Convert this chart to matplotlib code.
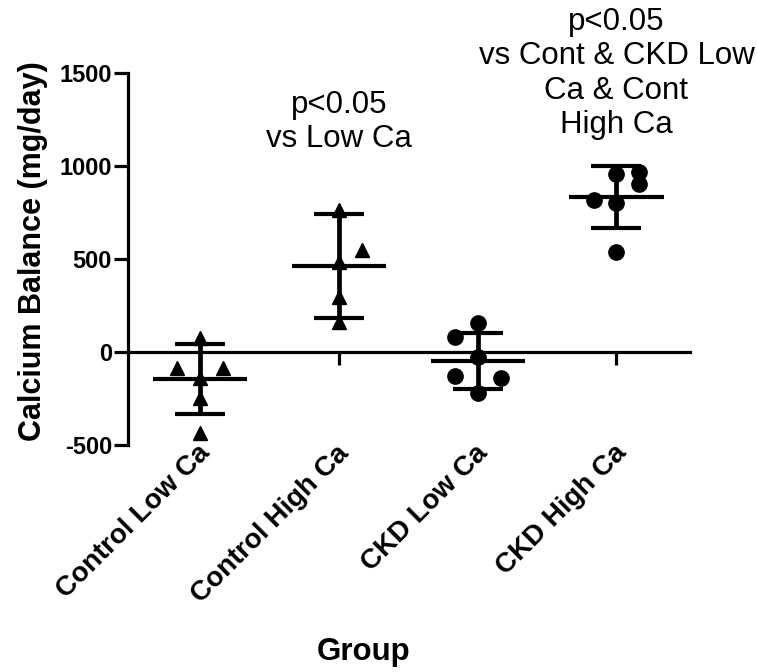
import matplotlib
matplotlib.use("Agg")
import matplotlib.pyplot as plt
from matplotlib.transforms import ScaledTranslation

plt.rcParams["font.family"] = ["Liberation Sans", "DejaVu Sans"]
plt.rcParams["axes.unicode_minus"] = False

# data
groups = ["Control Low Ca", "Control High Ca", "CKD Low Ca", "CKD High Ca"]
ctrl_low = [75, -87, -87, -140, -247, -435]
ctrl_high = [763, 548, 484, 296, 161]
ckd_low = [156, 81, -27, -129, -140, -220]
ckd_high = [968, 957, 903, 817, 801, 538]
group_mean = [-145, 462, -48, 833]
group_sd = [188, 280, 150, 167]
yticks = [-500, 0, 500, 1000, 1500]
notes = ["p<0.05\nvs Low Ca", "p<0.05\nvs Cont & CKD Low\nCa & Cont\nHigh Ca"]
note_y = [1065, 1140]

# horizontal scatter slots (GraphPad-style spreading of close points)
slots = [[0, -1, 1, 0, 0, 0],
         [0, 1, 0, 0, 0],
         [0, -1, 0, -1, 1, 0],
         [1, 0, 1, -1, 0, 0]]
spread = 0.165
markers = ["^", "^", "o", "o"]

fig = plt.figure(figsize=(7.57, 6.72), dpi=100)
ax = fig.add_axes([0.1691, 0.3378, 0.7424, 0.5536])

# axis frame first: moving a spine resets tick styling
for side in ("top", "right"):
    ax.spines[side].set_visible(False)
ax.spines["bottom"].set_position(("data", 0))
ax.spines["bottom"].set_linewidth(2.3)
ax.spines["left"].set_linewidth(2.3)

values = [ctrl_low, ctrl_high, ckd_low, ckd_high]
xs = list(range(1, len(groups) + 1))
for x, vals, sl, mk in zip(xs, values, slots, markers):
    ax.plot([x + s * spread for s in sl], vals, linestyle="none", marker=mk,
            color="black", markersize=11 if mk == "o" else 10.5, zorder=3)

ax.errorbar(xs, group_mean, yerr=group_sd, fmt="none", ecolor="black",
            elinewidth=3.4, capsize=18, capthick=3.0, zorder=4)
ax.hlines(group_mean, [x - 0.34 for x in xs], [x + 0.34 for x in xs],
          color="black", lw=3.0, zorder=4)

for x, txt, y in zip([2, 4], notes, note_y):
    ax.text(x, y, txt, ha="center", va="bottom", fontsize=22.5,
            linespacing=1.19, clip_on=False)

ax.set_xlim(0.48, 4.53)
ax.set_ylim(-500, 1500)
ax.set_yticks(yticks)
ax.set_xticks(xs)
ax.tick_params(axis="x", direction="out", length=9, width=2.3, pad=61)
ax.tick_params(axis="y", direction="out", length=10, width=2.3, pad=1.5)

ax.set_ylabel("Calcium Balance (mg/day)", fontsize=22, fontweight="bold")
ax.yaxis.set_label_coords(-0.142, 0.52)
ax.set_xlabel("Group", fontsize=22.5, fontweight="bold")
ax.xaxis.set_label_coords(0.42, -0.515)

# style tick labels once the ticks exist for good
fig.canvas.draw()
ax.set_xticklabels(groups)
ax.set_yticklabels([str(t) for t in yticks])
for lab in ax.get_yticklabels():
    lab.set_fontsize(17)
    lab.set_fontweight("bold")
for lab in ax.get_xticklabels():
    lab.set_fontsize(20)
    lab.set_fontweight("bold")
    lab.set_rotation(45)
    lab.set_rotation_mode("anchor")
    lab.set_ha("right")
    lab.set_va("center")
    lab.set_transform(lab.get_transform() + ScaledTranslation(0.06, 0, fig.dpi_scale_trans))

fig.savefig("out.png", dpi=100)
